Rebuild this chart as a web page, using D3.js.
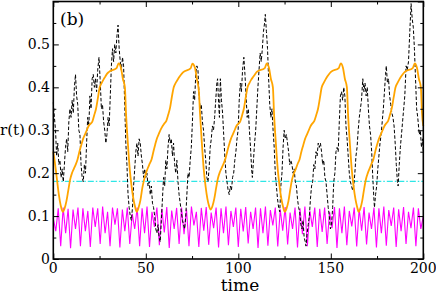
<!DOCTYPE html>
<html><head><meta charset="utf-8">
<script src="https://cdn.jsdelivr.net/npm/d3@7"></script>
<style>body{margin:0;background:#fff}svg{display:block}</style>
</head><body><svg id="c" width="436" height="294"></svg>
<script>
const xTicks=[0,50,100,150,200];
const yTicks=[0,0.1,0.2,0.3,0.4,0.5];
const yTickLabels=["0","0.1","0.2","0.3","0.4","0.5"];
const panelLabel="(b)", xLabel="time", yLabel="r(t)";
const cyanLevel=0.181;

const orangeT=[0,1,2,3,4,
5.1,6.1,7.1,8.1,9.1,10.1,11.1,12.1,13.1,14.1,15.1,16.1,17.1,18.1,19.1,20.1,21.1,22.1,23.1,24.1,25.1,26.1,27.1,28.1,29.1,30.1,34.2,35.3,36.6,37.6,38.7,39.3,40.3,41.3,42.3,43.3,44.3,
45.1,46.1,47.1,48.1,49.1,50.1,51.1,52.1,53.1,54.1,55.1,56.1,57.1,58.1,59.1,60.1,61.1,62.1,63.1,64.1,65.1,66.1,67.1,68.1,69.1,70.1,74.2,75.2,76.6,77.6,78.7,79.3,80.3,81.3,82.3,83.3,84.3,
85.0,86.0,87.0,88.0,89.0,90.0,91.0,92.0,93.0,94.0,95.0,96.0,97.0,98.0,99.0,100.0,101.0,102.0,103.0,104.0,105.0,106.0,107.0,108.0,109.0,110.0,114.3,115.4,116.6,117.6,118.7,119.3,120.3,121.3,122.3,123.3,124.3,
125.1,126.1,127.1,128.1,129.1,130.1,131.1,132.1,133.1,134.1,135.1,136.1,137.1,138.1,139.1,140.1,141.1,142.1,143.1,144.1,145.1,146.1,147.1,148.1,149.1,150.1,154.3,155.4,156.6,157.6,158.7,159.3,160.3,161.3,162.3,163.3,164.3,
165.0,166.0,167.0,168.0,169.0,170.0,171.0,172.0,173.0,174.0,175.0,176.0,177.0,178.0,179.0,180.0,181.0,182.0,183.0,184.0,185.0,186.0,187.0,188.0,189.0,190.0,194.3,195.4,196.6,197.6,198.7,199.3,200];
const orangeR=[0.25,0.22,0.185,0.15,0.125,
0.11,0.118,0.135,0.16,0.185,0.20,0.21,0.22,0.232,0.25,0.265,0.28,0.29,0.30,0.31,0.315,0.32,0.335,0.35,0.375,0.40,0.41,0.418,0.425,0.432,0.436,0.445,0.456,0.445,0.42,0.40,0.34,0.27,0.21,0.17,0.14,0.12,
0.11,0.12,0.137,0.165,0.185,0.20,0.212,0.222,0.232,0.25,0.267,0.282,0.292,0.302,0.31,0.316,0.322,0.336,0.352,0.378,0.40,0.41,0.417,0.424,0.43,0.435,0.444,0.455,0.445,0.42,0.39,0.34,0.27,0.21,0.17,0.14,0.122,
0.115,0.123,0.14,0.165,0.188,0.202,0.212,0.222,0.233,0.25,0.266,0.28,0.29,0.30,0.31,0.315,0.32,0.334,0.35,0.376,0.40,0.41,0.418,0.424,0.43,0.436,0.445,0.456,0.445,0.42,0.40,0.34,0.27,0.21,0.17,0.14,0.12,
0.11,0.118,0.135,0.162,0.186,0.20,0.21,0.222,0.232,0.25,0.265,0.28,0.29,0.30,0.31,0.316,0.322,0.335,0.35,0.375,0.40,0.41,0.418,0.425,0.431,0.436,0.445,0.456,0.445,0.42,0.40,0.34,0.27,0.21,0.17,0.14,0.12,
0.11,0.118,0.136,0.163,0.186,0.20,0.211,0.222,0.232,0.25,0.266,0.28,0.29,0.30,0.31,0.316,0.322,0.336,0.352,0.377,0.40,0.41,0.418,0.425,0.431,0.436,0.445,0.456,0.445,0.42,0.40,0.34,0.31];

const blackT=[0,0.6,1.2,1.8,2.4,3.0,3.6,4.2,4.8,5.4,6.0,6.6,7.2,7.8,8.4,9.0,9.6,10.2,10.8,11.4,12.0,12.6,13.2,13.8,14.4,15.0,15.6,16.2,16.8,17.4,18.0,18.6,19.2,19.8,20.4,21.0,21.6,22.2,22.8,23.4,24.0,24.7,25.3,26.0,26.6,27.2,27.8,28.4,29.0,29.6,30.2,30.8,31.4,32.0,32.6,33.2,33.8,34.4,35.0,35.6,36.2,36.8,37.4,38.0,38.6,39.2,39.8,40.4,41.0,41.6,42.2,42.8,43.4,44.0,44.6,45.2,45.8,46.4,47.0,47.6,48.2,48.8,49.4,50.0,50.6,51.2,51.8,52.4,53.0,53.6,54.2,54.8,55.4,56.0,56.6,57.2,57.8,58.4,59.0,59.6,60.2,60.8,61.4,62.0,62.6,63.2,63.8,64.4,65.0,65.6,66.2,66.8,67.4,68.0,68.6,69.2,69.8,70.4,71.0,71.6,72.2,72.8,73.4,74.0,74.6,75.2,75.8,76.4,77.0,77.6,78.2,78.8,79.4,80.0,80.6,81.2,81.8,82.4,83.0,83.6,84.2,84.8,85.4,86.0,86.6,87.2,87.8,88.4,88.8,89.4,89.8,90.3,90.9,91.5,92.1,92.7,93.3,93.9,94.5,95.1,95.7,96.3,96.9,97.5,98.1,98.7,99.3,99.9,100.5,101.1,101.7,102.3,103.0,103.6,104.2,104.8,105.4,106.0,106.6,107.2,107.6,108.2,108.8,109.4,110.0,110.6,111.2,111.8,112.4,113.0,113.6,114.2,114.6,115.2,115.8,116.4,117.0,117.6,118.2,118.8,119.4,120.0,120.6,121.2,121.8,122.4,123.0,123.6,124.2,124.8,125.4,126.0,126.6,127.2,127.8,128.4,129.0,129.6,130.2,130.8,131.4,132.0,132.6,133.2,133.8,134.4,135.0,135.6,136.2,136.6,137.2,137.8,138.4,139.0,139.6,140.2,140.8,141.4,142.0,142.6,143.2,143.8,144.4,145.0,145.6,146.2,146.8,147.4,148.0,148.6,149.2,149.8,150.4,151.0,151.6,152.2,152.8,153.4,154.0,154.6,155.2,155.8,156.4,157.0,157.6,158.2,158.8,159.4,160.0,160.6,161.2,161.8,162.4,163.0,163.6,164.2,164.8,165.4,166.0,166.6,167.3,167.9,168.5,169.1,169.7,170.3,170.9,171.5,172.1,172.7,173.3,173.6,174.2,174.8,175.4,176.0,176.6,177.2,177.8,178.4,179.0,179.6,180.0,180.6,181.2,181.8,182.4,183.0,183.6,184.2,184.8,185.4,186.0,186.4,187.0,187.6,188.2,188.8,189.4,190.0,190.7,191.3,192.0,192.6,193.4,194.0,194.6,195.2,195.8,196.4,197.0,197.8,198.4,199.0,199.6,200];
const blackR=[0.365,0.33,0.30,0.24,0.27,0.22,0.23,0.19,0.21,0.18,0.22,0.26,0.28,0.25,0.32,0.35,0.33,0.37,0.34,0.40,0.43,0.38,0.36,0.30,0.29,0.22,0.19,0.18,0.22,0.20,0.27,0.33,0.31,0.38,0.35,0.42,0.43,0.40,0.42,0.39,0.44,0.47,0.42,0.35,0.36,0.32,0.30,0.27,0.29,0.33,0.31,0.38,0.45,0.49,0.46,0.50,0.48,0.52,0.545,0.49,0.46,0.44,0.47,0.45,0.36,0.27,0.22,0.15,0.12,0.10,0.09,0.12,0.17,0.21,0.25,0.27,0.24,0.28,0.27,0.24,0.22,0.19,0.21,0.19,0.20,0.17,0.18,0.15,0.17,0.13,0.12,0.10,0.07,0.06,0.08,0.05,0.04,0.09,0.14,0.19,0.17,0.23,0.21,0.26,0.29,0.27,0.28,0.24,0.27,0.22,0.20,0.23,0.18,0.15,0.13,0.11,0.09,0.08,0.07,0.10,0.15,0.20,0.19,0.23,0.26,0.32,0.39,0.37,0.43,0.45,0.44,0.38,0.35,0.36,0.32,0.30,0.26,0.23,0.19,0.18,0.21,0.26,0.28,0.31,0.30,0.33,0.37,0.41,0.42,0.36,0.33,0.42,0.37,0.34,0.29,0.24,0.20,0.18,0.16,0.15,0.17,0.16,0.19,0.20,0.23,0.25,0.28,0.30,0.37,0.41,0.39,0.44,0.47,0.43,0.38,0.33,0.35,0.30,0.26,0.21,0.19,0.23,0.27,0.30,0.35,0.40,0.44,0.48,0.46,0.49,0.53,0.55,0.57,0.53,0.49,0.42,0.36,0.33,0.35,0.30,0.26,0.20,0.17,0.14,0.12,0.11,0.17,0.20,0.26,0.30,0.28,0.29,0.27,0.25,0.22,0.23,0.22,0.20,0.21,0.18,0.17,0.14,0.12,0.11,0.08,0.07,0.09,0.05,0.04,0.03,0.06,0.08,0.10,0.14,0.17,0.18,0.22,0.21,0.25,0.24,0.27,0.26,0.27,0.25,0.22,0.23,0.19,0.18,0.15,0.12,0.10,0.07,0.08,0.12,0.18,0.20,0.25,0.26,0.25,0.32,0.38,0.39,0.37,0.40,0.38,0.31,0.28,0.24,0.20,0.18,0.17,0.16,0.17,0.20,0.24,0.26,0.30,0.33,0.35,0.37,0.42,0.39,0.41,0.38,0.40,0.35,0.31,0.29,0.25,0.19,0.14,0.12,0.15,0.17,0.21,0.24,0.27,0.29,0.32,0.35,0.39,0.43,0.45,0.41,0.42,0.38,0.36,0.34,0.33,0.31,0.27,0.22,0.18,0.17,0.22,0.26,0.29,0.32,0.35,0.38,0.45,0.44,0.46,0.52,0.595,0.56,0.54,0.49,0.42,0.35,0.33,0.29,0.30,0.26,0.28,0.25];

const magentaR=[0.095,0.065,0.118,0.03,0.12,0.06,0.117,0.025,0.115,0.07,0.12,0.03,0.118,0.065,0.112,0.028,0.12,0.075,0.118,0.035,0.122,0.06,0.11,0.03,0.12,0.08,0.118,0.027,0.115,0.065,0.12,0.035,0.105,0.07,0.12,0.03,0.118,0.06,0.122,0.028,0.11,0.075,0.12,0.032,0.117,0.062,0.121,0.026,0.113,0.07,0.119,0.035,0.12,0.058,0.116,0.03,0.122,0.078,0.11,0.028,0.119,0.066,0.121,0.033,0.108,0.072,0.12,0.027,0.118,0.06,0.122,0.032,0.112,0.075,0.12,0.028,0.117,0.064,0.121,0.036,0.11,0.07,0.12,0.026,0.118,0.06,0.122,0.031,0.114,0.078,0.12,0.029,0.116,0.066,0.121,0.034,0.108,0.07,0.12,0.027,0.118,0.058,0.122,0.03,0.113,0.075,0.12,0.028,0.117,0.063,0.12,0.035,0.11,0.072,0.121,0.026,0.118,0.06,0.122,0.032,0.112,0.076,0.12,0.029,0.117,0.066,0.121,0.034,0.108,0.07,0.12,0.027,0.118,0.06,0.122,0.031,0.114,0.077,0.12,0.028,0.116,0.065,0.121,0.035,0.11,0.072,0.12,0.03,0.118,0.07,0.1];

const FONT="'DejaVu Serif', serif";
const x=d3.scaleLinear().domain([0,200]).range([53.3,423.3]);
const y=d3.scaleLinear().domain([0,0.6]).range([259,1.5]);
const svg=d3.select("#c");

const dtM=200/(magentaR.length-1);
const line=d3.line().x(d=>x(d[0])).y(d=>y(d[1]));
const plot=svg.append("g");
plot.append("path").datum(magentaR.map((v,i)=>[i*dtM,v])).attr("d",line)
 .attr("fill","none").attr("stroke","#ff00ff").attr("stroke-width",1.1);
plot.append("path").datum([[0,cyanLevel],[200,cyanLevel]]).attr("d",line)
 .attr("fill","none").attr("stroke","#2ee6e6").attr("stroke-width",1.3).attr("stroke-dasharray","6,2,1.5,2");
plot.append("path").datum(blackT.map((t,i)=>[t,blackR[i]])).attr("d",line)
 .attr("fill","none").attr("stroke","#000").attr("stroke-width",1).attr("stroke-dasharray","3.5,2");
plot.append("path").datum(orangeT.map((t,i)=>[t,orangeR[i]])).attr("d",d3.line().curve(d3.curveMonotoneX).x(d=>x(d[0])).y(d=>y(d[1])))
 .attr("fill","none").attr("stroke","#ffa500").attr("stroke-width",1.8);

const xMinor=d3.range(0,201,25), yMinor=d3.range(0,0.601,0.05);
const axB=svg.append("g").attr("transform",`translate(0,${y(0)})`).call(d3.axisBottom(x).tickValues(xMinor).tickSizeOuter(0).tickFormat(""));
axB.selectAll(".tick line").attr("y2",d=>xTicks.includes(d)?-5.5:-3);
const axT=svg.append("g").attr("transform",`translate(0,${y(0.6)})`).call(d3.axisTop(x).tickValues(xMinor).tickSizeOuter(0).tickFormat(""));
axT.selectAll(".tick line").attr("y2",d=>xTicks.includes(d)?5.5:3);
const axL=svg.append("g").attr("transform",`translate(${x(0)},0)`).call(d3.axisLeft(y).tickValues(yMinor).tickSizeOuter(0).tickFormat(""));
axL.selectAll(".tick line").attr("x2",(d,i)=>i%2==0?5.5:3);
const axR=svg.append("g").attr("transform",`translate(${x(200)},0)`).call(d3.axisRight(y).tickValues(yMinor).tickSizeOuter(0).tickFormat(""));
axR.selectAll(".tick line").attr("x2",(d,i)=>i%2==0?-5.5:-3);
[axB,axT,axL,axR].forEach(a=>{a.select(".domain").remove();a.selectAll(".tick line").attr("stroke","#000").attr("stroke-width",1);});

svg.append("rect").attr("x",x(0)).attr("y",y(0.6)).attr("width",x(200)-x(0)).attr("height",y(0)-y(0.6))
 .attr("fill","none").attr("stroke","#000").attr("stroke-width",1.6);

const T=svg.append("g").style("font-family",FONT);
T.append("g").selectAll("text").data(xTicks).join("text").style("font-family",FONT)
 .attr("x",d=>x(d)).attr("y",273).attr("text-anchor","middle").attr("font-size",14).text(d=>d);
T.append("g").selectAll("text").data(yTicks).join("text").style("font-family",FONT)
 .attr("x",50).attr("y",d=>y(d)+5).attr("text-anchor","end").attr("font-size",14).text((d,i)=>yTickLabels[i]);
T.append("text").style("font-family",FONT).attr("x",240).attr("y",291).attr("text-anchor","middle").attr("font-size",17).text(xLabel);
T.append("text").style("font-family",FONT).attr("x",0).attr("y",135).attr("font-size",15).text(yLabel);
T.append("text").style("font-family",FONT).attr("x",60).attr("y",25).attr("font-size",17).text(panelLabel);
</script></body></html>
